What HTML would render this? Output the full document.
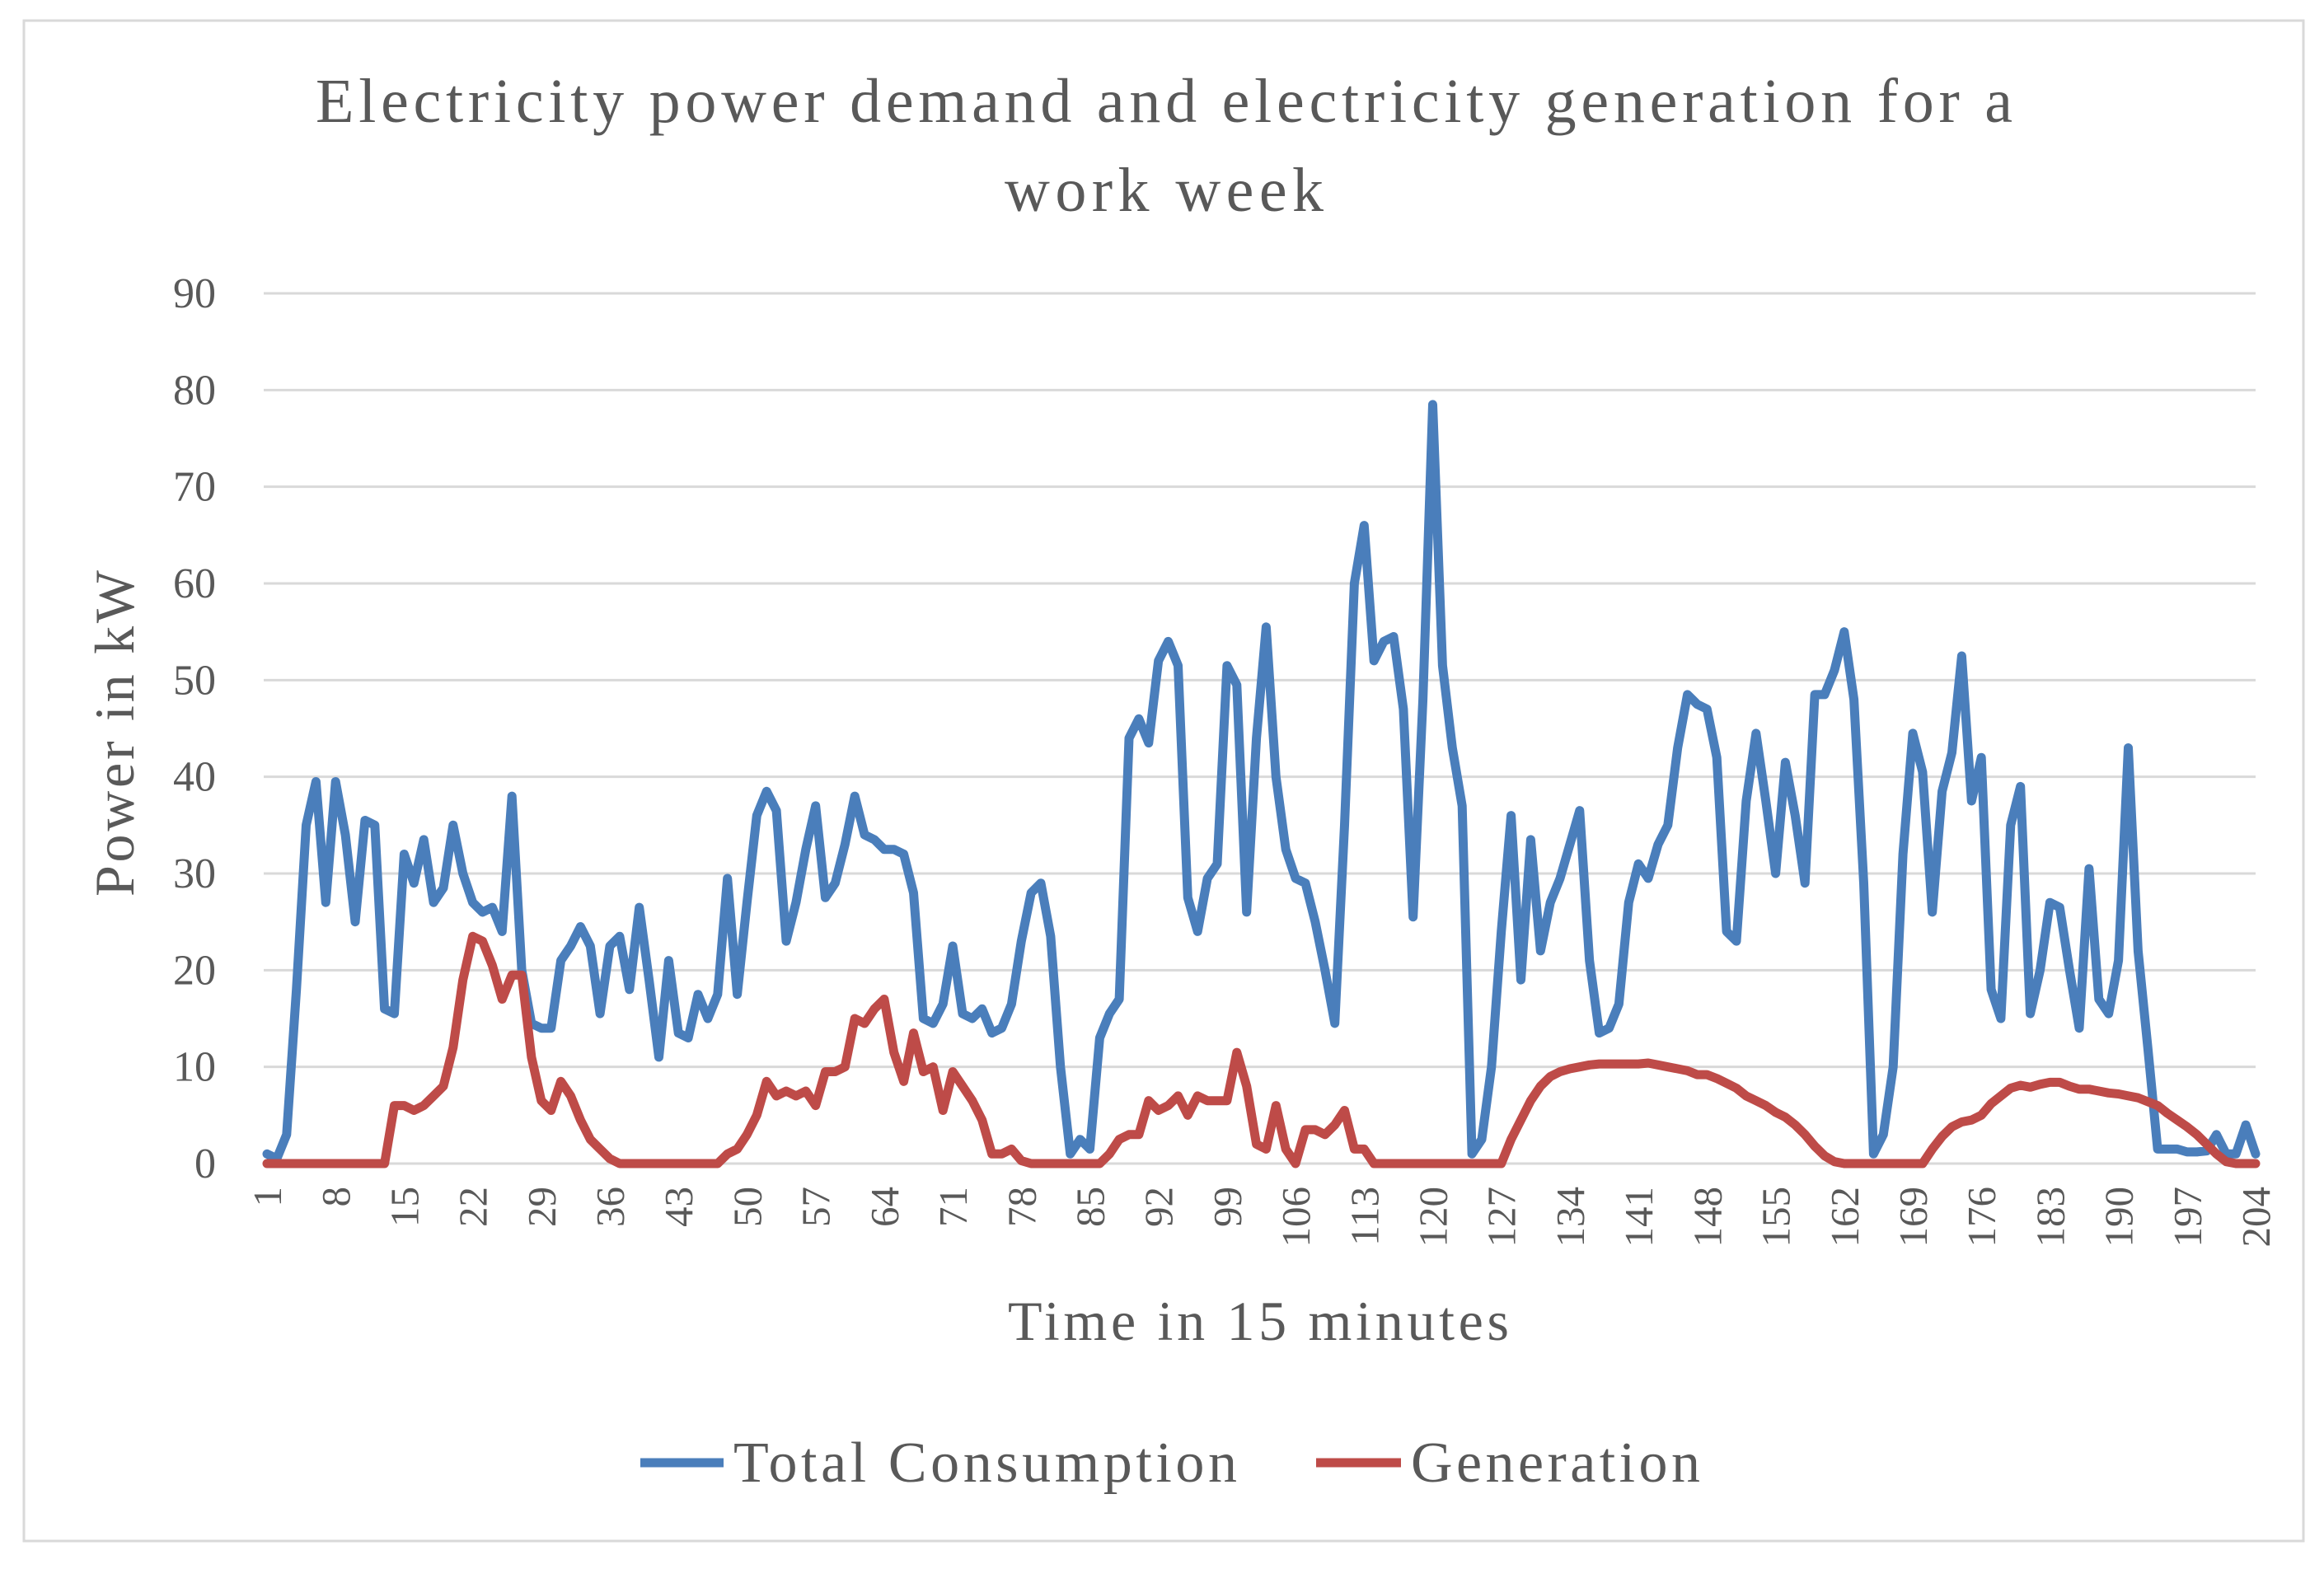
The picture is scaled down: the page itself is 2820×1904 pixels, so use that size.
<!DOCTYPE html>
<html><head><meta charset="utf-8"><style>
html,body{margin:0;padding:0;background:#fff;}
svg{display:block;font-family:"Liberation Serif",serif;}
</style></head><body>
<svg id="chart" width="2820" height="1904" viewBox="0 0 2820 1904" xmlns="http://www.w3.org/2000/svg">
<rect x="29" y="25" width="2766" height="1845" fill="#fff" stroke="#d9d9d9" stroke-width="3"/>
<text x="383" y="148" textLength="2059" lengthAdjust="spacing" font-size="76" fill="#595959">Electricity power demand and electricity generation for a</text>
<text x="1219" y="256" textLength="387" lengthAdjust="spacing" font-size="76" fill="#595959">work week</text>
<g id="grid"></g>
<g id="yticks"></g>
<g id="xticks"></g>
<g id="series"></g>
<text transform="translate(162,1088) rotate(-90)" textLength="396" lengthAdjust="spacing" font-size="68" fill="#595959">Power in kW</text>
<text x="1223" y="1626" textLength="608" lengthAdjust="spacing" font-size="68" fill="#595959">Time in 15 minutes</text>
<g>
<g>
<line x1="777" y1="1775" x2="878" y2="1775" stroke="#4a7ebb" stroke-width="11"/>
<text x="890" y="1798" textLength="611" lengthAdjust="spacing" font-size="70" fill="#595959">Total Consumption</text>
</g>
<g>
<line x1="1597" y1="1775" x2="1700" y2="1775" stroke="#be4b48" stroke-width="11"/>
<text x="1712" y="1798" textLength="351" lengthAdjust="spacing" font-size="70" fill="#595959">Generation</text>
</g>
</g>
</svg>
<script>
const yTicks=[0,10,20,30,40,50,60,70,80,90];
const consumption=[1,0.5,3,18,35,39.5,27,39.5,34,25,35.5,35,16,15.5,32,29,33.5,27,28.5,35,30,27,26,26.5,24,38,20,14.5,14,14,21,22.5,24.5,22.5,15.5,22.5,23.5,18,26.5,19,11,21,13.5,13,17.5,15,17.5,29.5,17.5,27,36,38.5,36.5,23,27,32.5,37,27.5,29,33,38,34,33.5,32.5,32.5,32,28,15,14.5,16.5,22.5,15.5,15,16,13.5,14,16.5,23,28,29,23.5,10,1,2.5,1.5,13,15.5,17,44,46,43.5,52,54,51.5,27.5,24,29.5,31,51.5,49.5,26,44,55.5,40,32.5,29.5,29,25,20,14.5,35,60,66,52,54,54.5,47,25.5,48,78.5,51.5,43,37,1,2.5,10,24,36,19,33.5,22,27,29.5,33,36.5,21,13.5,14,16.5,27,31,29.5,33,35,43,48.5,47.5,47,42,24,23,37.5,44.5,37.5,30,41.5,36,29,48.5,48.5,51,55,48,29,1,3,10,32,44.5,40.5,26,38.5,42.5,52.5,37.5,42,18,15,35,39,15.5,20,27,26.5,20,14,30.5,17,15.5,21,43,22,12,1.5,1.5,1.5,1.2,1.2,1.3,3,1,1,4,1];
const generation=[0,0,0,0,0,0,0,0,0,0,0,0,0,
6,6,5.5,6,7,8,12,19,23.5,23,20.5,17,19.5,19.5,11,6.5,5.5,8.5,7,4.5,2.5,1.5,0.5,
0,0,0,0,0,0,0,0,0,0,0,
1,1.5,3,5,8.5,7,7.5,7,7.5,6,9.5,9.5,10,15,14.5,16,17,11.5,8.5,13.5,9.5,10,5.5,9.5,8,6.5,4.5,1,1,1.5,0.3,
0,0,0,0,0,0,0,0,
1,2.5,3,3,6.5,5.5,6,7,5,7,6.5,6.5,6.5,11.5,8,2,1.5,6,1.5,0,3.5,3.5,3,4,5.5,1.5,1.5,
0,0,0,0,0,0,0,0,0,0,0,0,0,0,
2.5,4.5,6.5,8,9,9.5,9.8,10,10.2,10.3,10.3,10.3,10.3,10.3,10.4,10.2,10,9.8,9.6,9.2,9.2,8.8,8.3,7.8,7,6.5,6,5.3,4.8,4,3,1.8,0.8,0.2,
0,0,0,0,0,0,0,0,0,
1.5,2.8,3.8,4.3,4.5,5,6.2,7,7.8,8.1,7.9,8.2,8.4,8.4,8,7.7,7.7,7.5,7.3,7.2,7,6.8,6.4,6,5.2,4.5,3.8,3,2,1,0.2,
0,0,0];
const xLabelStep=7;

const NS="http://www.w3.org/2000/svg";
const X0=324,X1=2737,Y0=1412,Y90=356;
const n=consumption.length;
function xs(i){return X0+i*(X1-X0)/(n-1);}
function ys(v){return Y0-v*(Y0-Y90)/90;}
function mk(tag,attrs,parent){const e=document.createElementNS(NS,tag);for(const k in attrs)e.setAttribute(k,attrs[k]);parent.appendChild(e);return e;}
const grid=document.getElementById('grid'),yt=document.getElementById('yticks'),xt=document.getElementById('xticks'),ser=document.getElementById('series');
yTicks.forEach(v=>{
  const l=mk('line',{x1:X0-4,x2:X1,y1:ys(v),y2:ys(v),stroke:'#d9d9d9','stroke-width':3},grid);
  
  
  const t=mk('text',{x:262,y:ys(v)+17,'text-anchor':'end','font-size':52,fill:'#595959'},yt);
  t.textContent=v;
  
  
});
for(let i=0;i<n;i+=xLabelStep){
  const t=mk('text',{transform:'translate('+(xs(i)+17)+',1440) rotate(-90)','text-anchor':'end','font-size':49,fill:'#595959'},xt);
  t.textContent=i+1;
  
  
}
function line(arr,color,name){
  const d=arr.map((v,i)=>(i?'L':'M')+xs(i).toFixed(1)+' '+ys(v).toFixed(1)).join(' ');
  const p=mk('path',{d:d,fill:'none',stroke:color,'stroke-width':11,'stroke-linejoin':'round','stroke-linecap':'round'},ser);
  
  
}
line(consumption,'#4a7ebb','total-consumption-line');
line(generation,'#be4b48','generation-line');
</script>
</body></html>
